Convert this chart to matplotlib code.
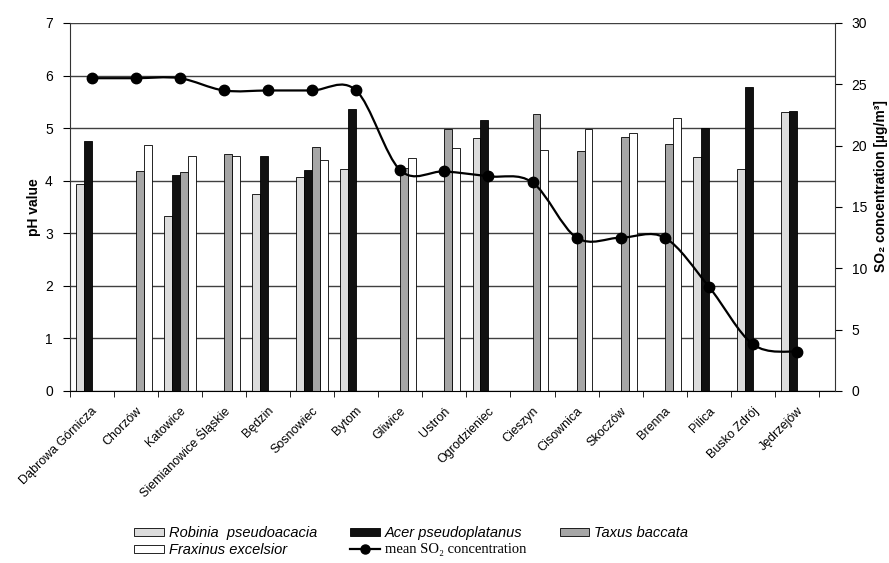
import numpy as np
import matplotlib
matplotlib.use("Agg")
from matplotlib import pyplot as plt
from matplotlib import transforms
from matplotlib.path import Path
from matplotlib.patches import PathPatch, Patch
from matplotlib.lines import Line2D

nan = np.nan

cities = ['Dąbrowa Górnicza', 'Chorzów', 'Katowice', 'Siemianowice Śląskie', 'Będzin',
          'Sosnowiec', 'Bytom', 'Gliwice', 'Ustroń', 'Ogrodzieniec', 'Cieszyn',
          'Cisownica', 'Skoczów', 'Brenna', 'Pilica', 'Busko Zdrój', 'Jędrzejów']

robinia = [3.94, nan, 3.33, nan, 3.74, 4.07, 4.22, nan, nan, 4.82, nan, nan, nan, nan, 4.45, 4.23, 5.31]
acer = [4.76, nan, 4.11, nan, 4.47, 4.20, 5.37, nan, nan, 5.16, nan, nan, nan, nan, 5.00, 5.78, 5.33]
taxus = [nan, 4.18, 4.17, 4.51, nan, 4.64, nan, 4.24, 4.98, nan, 5.26, 4.56, 4.84, 4.69, nan, nan, nan]
fraxinus = [nan, 4.67, 4.47, 4.47, nan, 4.40, nan, 4.44, 4.62, nan, 4.58, 4.98, 4.91, 5.19, nan, nan, nan]
so2 = [25.5, 25.5, 25.5, 24.5, 24.5, 24.5, 24.5, 18.0, 17.9, 17.5, 17.0, 12.5, 12.5, 12.5, 8.5, 3.8, 3.2]

species = [('Robinia  pseudoacacia', robinia, '#dcdcdc'),
           ('Acer pseudoplatanus', acer, '#111111'),
           ('Taxus baccata', taxus, '#a6a6a6'),
           ('Fraxinus excelsior', fraxinus, '#ffffff')]

plt.rcParams['font.family'] = ['Liberation Sans', 'DejaVu Sans']


def smooth_path(xs, ys):
    # Excel-like smoothed line: cubic bezier through points, catmull-rom tangents
    pts = np.column_stack([xs, ys])
    verts = [pts[0]]
    codes = [Path.MOVETO]
    n = len(pts)
    for i in range(n - 1):
        p0 = pts[max(i - 1, 0)]
        p1 = pts[i]
        p2 = pts[i + 1]
        p3 = pts[min(i + 2, n - 1)]
        verts += [p1 + (p2 - p0) / 6, p2 - (p3 - p1) / 6, p2]
        codes += [Path.CURVE4] * 3
    return Path(verts, codes)


fig = plt.figure(figsize=(8.89, 5.63), dpi=100)
ax = fig.add_axes([69.5 / 889, 1 - 391 / 563, (835 - 69.5) / 889, (391 - 23) / 563])

x = np.arange(len(cities))
w = 0.18
for k, (name, vals, col) in enumerate(species):
    ax.bar(x + (k - 1.5) * w, vals, w, color=col, edgecolor='black', linewidth=0.6, zorder=2)

ax.set_ylim(0, 7)
ax.set_xlim(-0.5, 16.86)
ax.set_yticks(range(8))
ax.yaxis.grid(True, color='#404040', linewidth=1)
ax.set_axisbelow(True)
for s in ['top', 'right']:
    ax.spines[s].set_visible(False)
ax.spines['left'].set_color('#333333')
ax.spines['bottom'].set_color('black')
ax.tick_params(axis='y', direction='out', length=5, labelsize=10, pad=7)

ax.set_xticks(x)
ax.set_xticklabels(cities, rotation=45, ha='right', va='center', rotation_mode='anchor', fontsize=9)
ax.tick_params(axis='x', which='major', length=0, pad=13)
shift = transforms.ScaledTranslation(4 / 100, 0, fig.dpi_scale_trans)
for lab in ax.get_xticklabels():
    lab.set_transform(lab.get_transform() + shift)
ax.set_xticks(np.arange(-0.5, 17, 1), minor=True)
ax.tick_params(axis='x', which='minor', direction='out', length=4)
fig.text(34 / 889, 1 - 207 / 563, 'pH value', rotation=90, ha='center', va='center',
         fontsize=10, fontweight='bold')

ax2 = ax.twinx()
ax2.set_ylim(0, 30)
ax2.set_yticks(range(0, 31, 5))
ax2.tick_params(axis='y', direction='out', length=5, labelsize=10, pad=7)
for s in ['top', 'left', 'bottom']:
    ax2.spines[s].set_visible(False)
ax2.spines['right'].set_color('#333333')
ax2.add_patch(PathPatch(smooth_path(x, so2), fill=False, edgecolor='black', linewidth=1.6, zorder=3))
ax2.plot(x, so2, linestyle='none', marker='o', markersize=7.5, color='black', zorder=4)
fig.text(881 / 889, 1 - 186 / 563, 'SO₂ concentration [µg/m³]', rotation=90, ha='center',
         va='center', fontsize=10, fontweight='bold')

handles = [Patch(facecolor=c, edgecolor='black', linewidth=0.6) for _, _, c in species]
handles.append(Line2D([], [], color='black', linewidth=1.6, marker='o', markersize=6.5))
labels = [n for n, _, _ in species] + ['mean SO₂ concentration']
order = [0, 3, 1, 4, 2]
leg = fig.legend([handles[i] for i in order], [labels[i] for i in order], ncol=3,
                 loc='upper left', bbox_to_anchor=(127 / 889, 1 - 519 / 563),
                 frameon=False, fontsize=10.5, handlelength=2.05, handleheight=0.4,
                 handletextpad=0.3, columnspacing=2.3, labelspacing=0.2, borderpad=0)
for t in leg.get_texts():
    if t.get_text().startswith('mean'):
        t.set_family(['Liberation Serif', 'DejaVu Serif'])
    else:
        t.set_style('italic')

fig.savefig('out.png', dpi=100)
